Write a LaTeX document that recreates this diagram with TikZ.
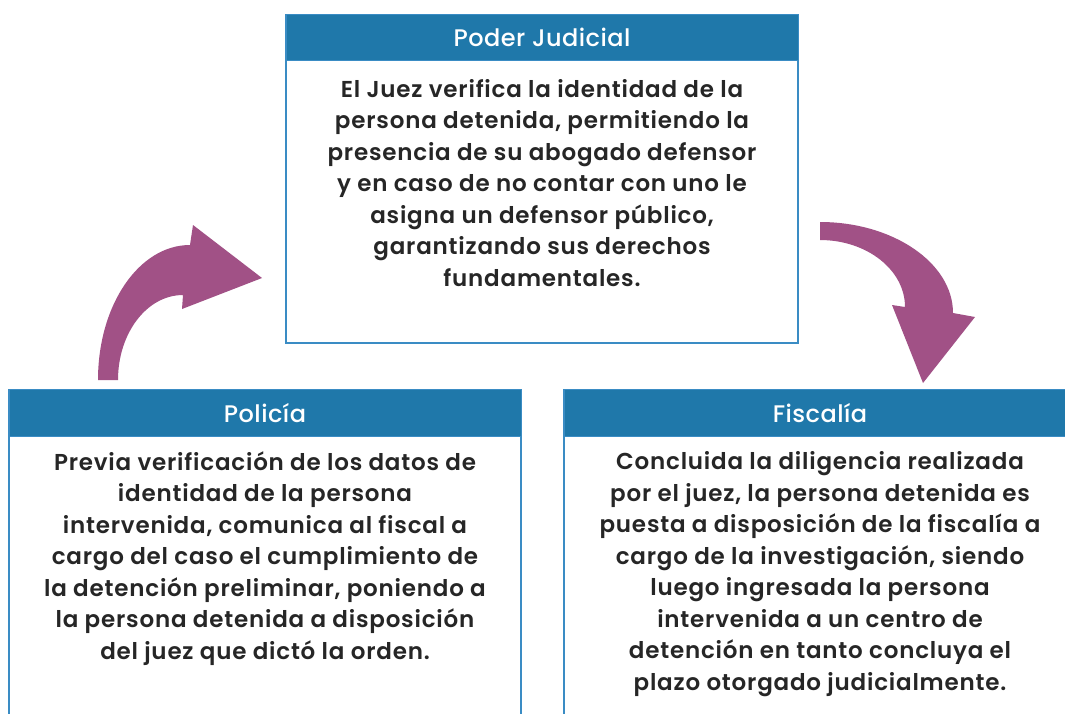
\documentclass[tikz,border=0pt]{standalone}
\usepackage{fontspec}
\setmainfont{Poppins}[BoldFont={Poppins SemiBold}]
\newfontfamily\hdrfont{Poppins Medium}[LetterSpace=2]
\newfontfamily\bodyfont{Poppins SemiBold}[LetterSpace=3.5]
\definecolor{hdr}{HTML}{1F78AA}
\definecolor{brd}{HTML}{3A8CC4}
\definecolor{arrowc}{HTML}{A15186}
\definecolor{txtc}{HTML}{262626}
\tikzset{
  bodybox/.style={draw=brd, line width=2pt, fill=white, inner sep=0pt, rectangle},
  hdrbox/.style={draw=brd, line width=1pt, fill=hdr, inner sep=0pt, rectangle, text=white, font=\hdrfont\fontsize{24}{28}\selectfont},
  bodytxt/.style={inner sep=0pt, align=center, text=txtc, font=\bodyfont\fontsize{23}{31.5}\selectfont},
  bigarrow/.style={fill=arrowc, draw=none}
}
\begin{document}
\begin{tikzpicture}[x=1pt,y=-1pt]
\useasboundingbox (0,0) rectangle (1065,713);
\clip (0,0) rectangle (1065,713);
\fill[white] (0,0) rectangle (1065,713);

% Poder Judicial
\node[bodybox, minimum width=512pt, minimum height=328pt] (pj) at (542,179) {};
\node[hdrbox, minimum width=512pt, minimum height=46pt, anchor=north] (pjh) at (pj.north) {Poder Judicial};
\node[bodytxt] (pjt) at (542,183) {El Juez verifica la identidad de la\\persona detenida, permitiendo la\\presencia de su abogado defensor\\y en caso de no contar con uno le\\asigna un defensor público,\\garantizando sus derechos\\fundamentales.};

% Policía
\node[bodybox, minimum width=512pt, minimum height=360pt] (po) at (265,570) {};
\node[hdrbox, minimum width=512pt, minimum height=47pt, anchor=north] (poh) at (po.north) {Policía};
\node[bodytxt] (pot) at (265,558.5) {Previa verificación de los datos de\\identidad de la persona\\intervenida, comunica al fiscal a\\cargo del caso el cumplimiento de\\la detención preliminar, poniendo a\\la persona detenida a disposición\\del juez que dictó la orden.};

% Fiscalía
\node[bodybox, minimum width=512pt, minimum height=360pt] (fi) at (820,570) {};
\node[hdrbox, minimum width=512pt, minimum height=47pt, anchor=north] (fih) at (fi.north) {Fiscalía};
\node[bodytxt] (fit) at (820,574) {Concluida la diligencia realizada\\por el juez, la persona detenida es\\puesta a disposición de la fiscalía a\\cargo de la investigación, siendo\\luego ingresada la persona\\intervenida a un centro de\\detención en tanto concluya el\\plazo otorgado judicialmente.};

% curved arrows
\fill[bigarrow] (98,380) .. controls (98,305) and (139,245) .. (190,245) -- (193,225) -- (262,278) -- (182,309) -- (183,295) .. controls (147,295) and (118,333) .. (118,380) -- cycle;
\fill[bigarrow] (820,222) .. controls (893,222) and (953,263) .. (953,313) -- (975,317) -- (923,383) -- (892,305) -- (905,307) .. controls (905,270) and (867,240) .. (820,240) -- cycle;
\end{tikzpicture}
\end{document}
